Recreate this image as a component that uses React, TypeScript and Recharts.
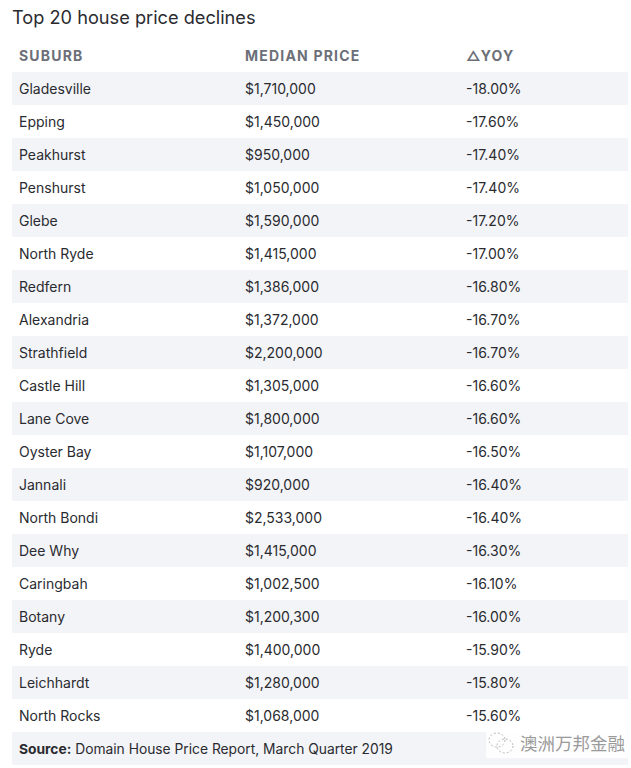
import React from "react";
import { BarChart, Bar, XAxis, YAxis, Cell, LabelList, Customized } from "recharts";

const suburbs = [
  "Gladesville", "Epping", "Peakhurst", "Penshurst", "Glebe", "North Ryde", "Redfern",
  "Alexandria", "Strathfield", "Castle Hill", "Lane Cove", "Oyster Bay", "Jannali",
  "North Bondi", "Dee Why", "Caringbah", "Botany", "Ryde", "Leichhardt", "North Rocks",
];
const medianPrices = [
  1710000, 1450000, 950000, 1050000, 1590000, 1415000, 1386000, 1372000, 2200000, 1305000,
  1800000, 1107000, 920000, 2533000, 1415000, 1002500, 1200300, 1400000, 1280000, 1068000,
];
const yoyChanges = [
  -18.0, -17.6, -17.4, -17.4, -17.2, -17.0, -16.8, -16.7, -16.7, -16.6,
  -16.6, -16.5, -16.4, -16.4, -16.3, -16.1, -16.0, -15.9, -15.8, -15.6,
];
const headers = ["SUBURB", "MEDIAN PRICE", "\u25B3YOY"];
const title = "Top 20 house price declines";
const sourceLabel = "Source:";
const sourceText = " Domain House Price Report, March Quarter 2019";
const watermark = "澳洲万邦金融";

const rows = [
  ...suburbs.map((s, i) => ({
    key: s,
    suburb: s,
    price: "$" + medianPrices[i].toLocaleString("en-US"),
    yoy: yoyChanges[i].toFixed(2) + "%",
    footer: false,
  })),
  { key: "__source", suburb: "", price: "", yoy: "", footer: true },
];

const W = 631;
const H = 768;
const FONT = "Inter, 'Noto Sans', sans-serif";
const TEXT = "#2a2b30";
const HEAD = "#6c6f78";
const STRIPE = "#f3f4f7";
const COL2 = 233;
const COL3 = 454;
const PAD = 7;

const RowText = (props: any) => {
  const { x, y, height, index } = props;
  const r = rows[index];
  const cy = y + height / 2 + 5.5;
  if (r.footer) {
    return (
      <text x={x + PAD} y={cy - 0.5} fontFamily={FONT} fontSize={13.8} fill={TEXT}>
        <tspan fontWeight={700}>{sourceLabel}</tspan>
        <tspan>{sourceText}</tspan>
      </text>
    );
  }
  return (
    <g fontFamily={FONT} fontSize={14} fill={TEXT}>
      <text x={x + PAD} y={cy}>{r.suburb}</text>
      <text x={x + COL2} y={cy}>{r.price}</text>
      <text x={x + COL3} y={cy}>{r.yoy}</text>
    </g>
  );
};

const Header = () => (
  <g fontFamily={FONT}>
    <text x={12} y={24} fontSize={18.2} fill={TEXT}>{title}</text>
    {headers.map((h, i) => (
      <text
        key={h}
        x={[19, 245, 466][i]}
        y={61}
        fontSize={14}
        fontWeight={700}
        letterSpacing={1.2}
        fill={HEAD}
      >
        {h}
      </text>
    ))}
  </g>
);

export default function App() {
  return (
    <div style={{ position: "absolute", left: 0, top: 0, width: W, height: H, background: "#fff" }}>
      <BarChart
        width={W}
        height={H}
        data={rows}
        layout="vertical"
        margin={{ top: 72, right: 3, bottom: 3, left: 12 }}
        barCategoryGap={0}
      >
        <XAxis type="number" domain={[0, 1]} hide />
        <YAxis type="category" dataKey="key" hide />
        <Bar dataKey={() => 1} isAnimationActive={false}>
          {rows.map((r, i) => (
            <Cell key={r.key} fill={i % 2 === 0 ? STRIPE : "#ffffff"} />
          ))}
          <LabelList dataKey="suburb" content={RowText} />
        </Bar>
        <Customized component={Header} />
      </BarChart>
      <div
        style={{
          position: "absolute",
          left: 486,
          top: 728,
          width: 145,
          height: 30,
          background: "rgba(255,255,255,0.85)",
          display: "flex",
          alignItems: "center",
        }}
      >
        <svg width={30} height={26}>
          <g fill="none" stroke="#b8b8b8" strokeWidth={1} strokeDasharray="2 2">
            <ellipse cx={11} cy={10} rx={8} ry={7} />
            <ellipse cx={19} cy={16} rx={8} ry={7} />
          </g>
        </svg>
        <span
          style={{
            fontFamily: "'Noto Sans CJK SC', sans-serif",
            fontSize: 17.5,
            color: "#9a9a9a",
            marginLeft: 4,
            lineHeight: "30px",
            whiteSpace: "nowrap",
          }}
        >
          {watermark}
        </span>
      </div>
    </div>
  );
}
